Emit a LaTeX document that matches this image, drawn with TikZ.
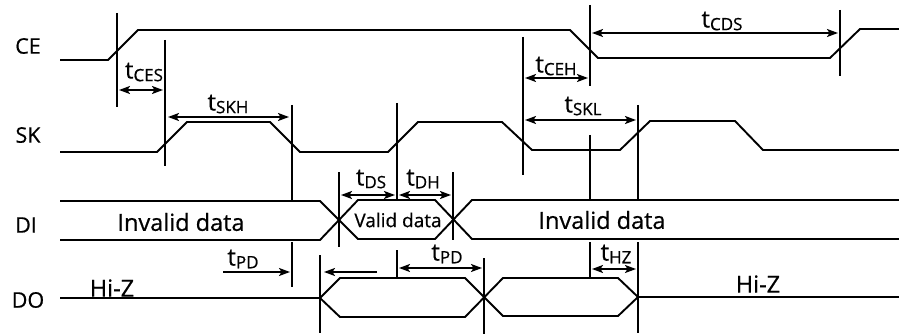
\documentclass[tikz,border=0pt]{standalone}
\usepackage{fontspec}
\setmainfont{Open Sans}[FakeBold=0.6]
\usetikzlibrary{arrows.meta}
\tikzset{
  sig/.style={line width=1.9pt, line join=miter},
  vline/.style={line width=2.1pt},
  dim/.style={line width=1.7pt, {Stealth[length=11pt,width=8pt,inset=2.5pt]}-{Stealth[length=11pt,width=8pt,inset=2.5pt]}},
  dimr/.style={line width=1.7pt, -{Stealth[length=11pt,width=8pt,inset=2.5pt]}},
  lbl/.style={inner sep=0pt, font=\fontsize{21.5}{21.5}\selectfont},
  big/.style={inner sep=0pt, font=\fontsize{23.5}{23.5}\selectfont},
  small/.style={inner sep=0pt, font=\fontsize{19}{19}\selectfont},
  tl/.style={inner sep=0pt, font=\fontsize{24}{24}\selectfont}
}
\newcommand{\tsub}[1]{t{\fontsize{17}{17}\selectfont\raisebox{-0.3ex}{#1}}}
\begin{document}
\begin{tikzpicture}[x=1pt,y=-1pt]
\useasboundingbox (0,0) rectangle (899,334);
% signal names
\node[lbl] (ce) at (28,46) {CE};
\node[lbl] (sk) at (28,135) {SK};
\node[lbl] (di) at (26,225) {DI};
\node[lbl] (do) at (28,300) {DO};
% CE
\draw[sig] (60,60)--(108,60)--(138,30)--(570,30)--(598,58)--(830,58)--(860,29)--(899,29);
% SK
\draw[sig] (60,152)--(157,152)--(187,122)--(270,122)--(300,152)--(388,152)--(418,122)--(502,122)--(532,150)--(620,150)--(650,121)--(735,121)--(763,150)--(899,150);
% DI
\draw[sig] (60,201)--(320,201)--(358,239)--(435,239)--(472,200)--(899,200);
\draw[sig] (60,240)--(320,240)--(358,200)--(435,200)--(472,239)--(899,239);
% DO
\draw[sig] (60,298)--(320,298)--(340,278)--(465,278)--(503,316)--(618,316)--(638,297)--(899,297);
\draw[sig] (320,298)--(340,317)--(465,317)--(503,278)--(618,278)--(638,297);
% marker lines
\draw[vline] (117,13)--(117,107);
\draw[vline] (165,40)--(165,166);
\draw[vline] (292,105)--(292,201);
\draw[vline] (292,242)--(292,287);
\draw[vline] (397,103)--(397,200);
\draw[vline] (397,250)--(397,278);
\draw[vline] (339,172)--(339,247);
\draw[vline] (453,172)--(453,240);
\draw[vline] (523,37)--(523,175);
\draw[vline] (590,5)--(590,86);
\draw[vline] (590,135)--(590,200);
\draw[vline] (590,242)--(590,277);
\draw[vline] (638,105)--(638,200);
\draw[vline] (638,242)--(638,333);
\draw[vline] (840,10)--(840,76);
\draw[vline] (320,255)--(320,333);
\draw[vline] (484,258)--(484,334);
% dimension arrows
\draw[dim] (119,90)--(163,90);
\draw[dim] (168,117)--(289,117);
\draw[dim] (525,78)--(588,78);
\draw[dim] (592,33)--(838,33);
\draw[dim] (525,120)--(636,120);
\draw[dim] (341,195)--(395,195);
\draw[dim] (399,195)--(451,195);
\draw[dimr] (223,272)--(290,272);
\draw[dimr] (377,272)--(324,272);
\draw[dim] (399,268)--(482,268);
\draw[dim] (592,269)--(636,269);
% timing labels
\node[tl] (tces) at (144,72) {\tsub{CES}};
\node[tl] (tskh) at (228,104) {\tsub{SKH}};
\node[tl] (tceh) at (556,66) {\tsub{CEH}};
\node[tl] (tcds) at (722,21) {\tsub{CDS}};
\node[tl] (tskl) at (583,106) {\tsub{SKL}};
\node[tl] (tds) at (371,179) {\tsub{DS}};
\node[tl] (tdh) at (423,179) {\tsub{DH}};
\node[tl] (tpda) at (243,259) {\tsub{PD}};
\node[tl] (tpdb) at (447,254) {\tsub{PD}};
\node[tl] (thz) at (616,254) {\tsub{HZ}};
% data labels
\node[big] (inv1) at (181,222) {Invalid data};
\node[big] (inv2) at (602,220) {Invalid data};
\node[small] (val) at (398,220) {Valid data};
\node[big] (hiz1) at (112,288) {Hi-Z};
\node[big] (hiz2) at (758,284) {Hi-Z};
\end{tikzpicture}
\end{document}
